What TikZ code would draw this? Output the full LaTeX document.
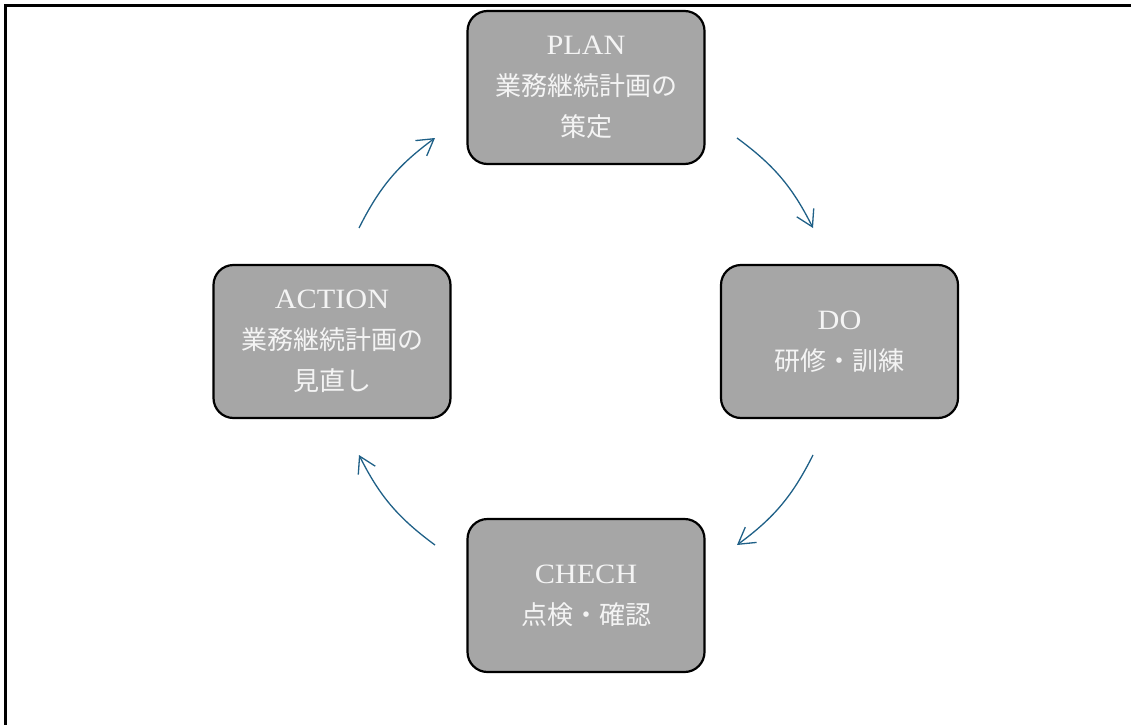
\documentclass[tikz,border=0pt]{standalone}
\usepackage{fontspec}
\setmainfont[FakeStretch=1.08]{Liberation Serif}
\newfontfamily\jp{Noto Sans CJK JP}
\usetikzlibrary{arrows.meta}
\definecolor{boxgray}{HTML}{A6A6A6}
\definecolor{boxtext}{HTML}{F4F4F4}
\definecolor{arrblue}{HTML}{1F6087}
\newcommand{\lat}[1]{{\fontsize{28}{41}\selectfont #1}}
\tikzset{
  stagebox/.style={draw=black, line width=2.2pt, fill=boxgray, rounded corners=20pt,
    minimum width=237pt, minimum height=153pt, inner sep=0pt, align=center,
    text=boxtext, font=\fontsize{26}{41}\selectfont},
  cyclearrow/.style={draw=arrblue, line width=1.3pt,
    -{Straight Barb[length=16pt,width=19pt,line width=1.3pt]}},
  framestroke/.style={line width=3pt, black}
}
\begin{document}
\begin{tikzpicture}[x=1pt,y=1pt]
\useasboundingbox (0,0) rectangle (1132,-725);
% frame (left and top sides)
\coordinate (fbl) at (5.5,-725);
\coordinate (ftl) at (5.5,-5.5);
\coordinate (ftr) at (1131,-5.5);
\draw[framestroke] (fbl) -- (ftl) -- (ftr);
% stages
\node[stagebox] (plan) at (586,-87.5) {\lat{PLAN}\\{\jp 業務継続計画の}\\{\jp 策定}};
\node[stagebox] (do) at (839.5,-341.5) {\lat{DO}\\{\jp 研修・訓練}};
\node[stagebox] (check) at (586,-595.5) {\lat{CHECH}\\{\jp 点検・確認}};
\node[stagebox] (action) at (332,-341.5) {\lat{ACTION}\\{\jp 業務継続計画の}\\{\jp 見直し}};
% arrow end points
\coordinate (a1s) at (737,-138);
\coordinate (a1e) at (813,-228);
\coordinate (a2s) at (813,-455);
\coordinate (a2e) at (737,-545);
\coordinate (a3s) at (435,-545);
\coordinate (a3e) at (359,-455);
\coordinate (a4s) at (359,-228);
\coordinate (a4e) at (435,-138);
\draw[cyclearrow] (a1s) to[bend left=13.5] (a1e);
\draw[cyclearrow] (a2s) to[bend left=13.5] (a2e);
\draw[cyclearrow] (a3s) to[bend left=13.5] (a3e);
\draw[cyclearrow] (a4s) to[bend left=13.5] (a4e);
\end{tikzpicture}
\end{document}
